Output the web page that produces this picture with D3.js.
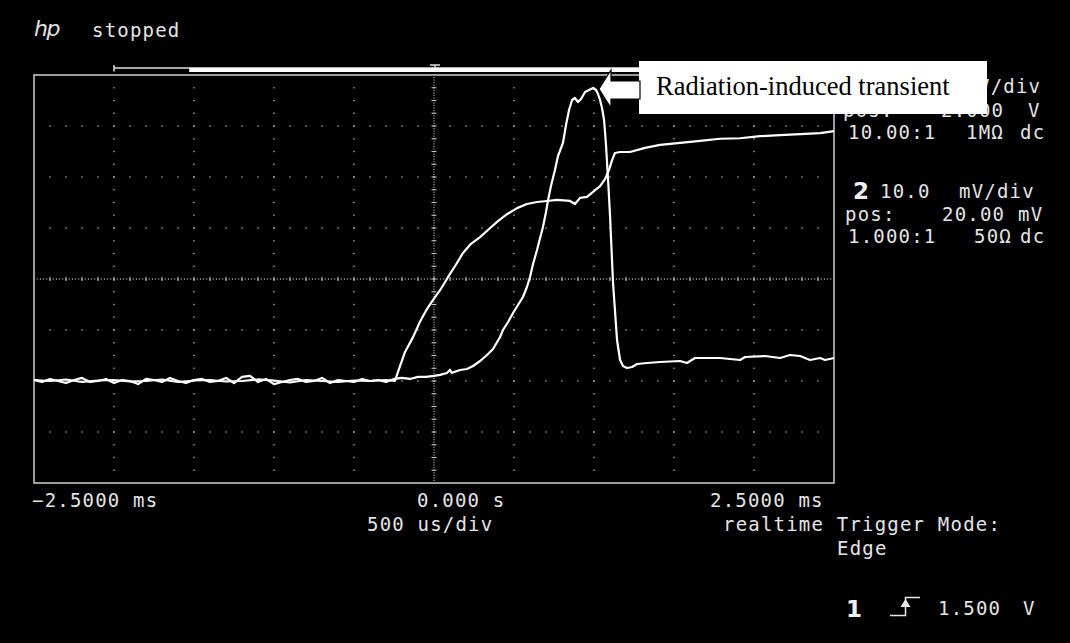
<!DOCTYPE html>
<html>
<head>
<meta charset="utf-8">
<script src="https://cdn.jsdelivr.net/npm/d3@7"></script>
<style>
  html, body { margin: 0; padding: 0; background: #000; }
  svg { display: block; }
  .scope { font-family: "DejaVu Sans Mono", monospace; font-size: 19px; letter-spacing: 1.2px; fill: #e4e4e4; }
  .big { font-family: "DejaVu Sans", sans-serif; font-size: 23px; font-weight: bold; fill: #f0f0f0; }
</style>
</head>
<body>
<script>
// Screen settings of the capture
const timePerDiv = 0.5;          // ms/div (500 us/div)
const timeCenter = 0.0;          // ms
const ch1VoltsPerDiv = 1.0;      // V/div
const ch1Offset = 2.0;           // V at screen centre
const ch2VoltsPerDiv = 10.0;     // mV/div
const ch2Offset = 20.0;          // mV at screen centre

// Channel 1: [time ms, volts]
const ch1Trace = [
  [-2.5,0.02],[-2.4,0.00],[-2.3,0.03],[-2.2,-0.02],[-2.1,0.01],[-2.0,0.02],[-1.9,-0.01],[-1.8,0.00],
  [-1.7,0.03],[-1.6,-0.02],[-1.5,0.01],[-1.4,0.02],[-1.3,-0.01],[-1.2,0.00],[-1.1,0.03],[-1.0,0.01],
  [-0.9,-0.03],[-0.8,0.02],[-0.7,0.00],[-0.6,-0.02],[-0.5,0.01],[-0.4,0.00],[-0.3,0.02],[-0.244,0.00],
  [-0.225,0.18],[-0.181,0.57],[-0.131,0.86],[-0.088,1.16],[-0.044,1.41],[-0.006,1.59],[0.038,1.78],
  [0.088,2.04],[0.131,2.25],[0.181,2.51],[0.231,2.69],[0.288,2.82],[0.344,2.98],[0.394,3.12],
  [0.456,3.27],[0.519,3.39],[0.581,3.47],[0.644,3.51],[0.706,3.53],[0.769,3.55],[0.85,3.53],
  [0.881,3.47],[0.913,3.59],[0.956,3.61],[0.994,3.71],[1.038,3.82],[1.069,3.96],[1.094,4.14],
  [1.113,4.33],[1.131,4.47],[1.163,4.49],[1.225,4.49],[1.319,4.57],[1.413,4.63],[1.538,4.67],
  [1.663,4.71],[1.788,4.75],[1.913,4.76],[2.038,4.80],[2.163,4.82],[2.288,4.84],[2.413,4.86],[2.5,4.90]
];

// Channel 2: [time ms, millivolts]
const ch2Trace = [
  [-2.5,0.2],[-2.45,-0.2],[-2.4,0.4],[-2.35,0.0],[-2.3,-0.4],[-2.25,0.2],[-2.2,0.6],[-2.15,-0.2],
  [-2.1,0.0],[-2.05,0.4],[-2.0,-0.4],[-1.95,0.2],[-1.9,0.0],[-1.85,-0.6],[-1.8,0.4],[-1.75,0.2],
  [-1.7,-0.2],[-1.65,0.6],[-1.6,0.0],[-1.55,-0.4],[-1.5,0.2],[-1.45,0.4],[-1.4,-0.2],[-1.35,0.0],
  [-1.3,0.6],[-1.25,-0.4],[-1.2,0.8],[-1.15,1.0],[-1.1,-0.2],[-1.05,0.4],[-1.0,-0.6],[-0.95,-0.2],
  [-0.9,0.2],[-0.85,0.4],[-0.8,-0.2],[-0.75,0.0],[-0.7,0.6],[-0.65,-0.4],[-0.6,0.2],[-0.55,0.0],
  [-0.5,-0.2],[-0.45,0.4],[-0.4,0.0],[-0.35,0.2],[-0.3,-0.2],
  [-0.25,0.4],[-0.2,0.6],[-0.15,0.4],[-0.1,0.8],[-0.05,0.8],[0.0,1.0],[0.038,1.2],[0.081,1.57],
  [0.1,2.2],[0.11,1.6],[0.163,2.16],[0.206,2.35],[0.244,2.94],[0.288,3.92],[0.331,5.10],[0.369,6.27],
  [0.413,8.63],[0.431,10.0],[0.463,11.57],[0.494,13.33],[0.525,14.90],[0.556,16.47],[0.581,18.43],
  [0.6,20.39],[0.619,22.94],[0.644,25.69],[0.663,28.04],[0.681,30.20],[0.7,33.14],[0.713,35.49],
  [0.731,38.24],[0.756,41.37],[0.775,44.12],[0.806,46.67],[0.825,50.20],[0.844,53.14],[0.863,55.10],
  [0.881,55.49],[0.9,54.71],[0.919,55.29],[0.944,56.67],[0.969,57.06],[0.994,57.45],[1.013,57.06],
  [1.025,56.27],[1.038,55.10],[1.05,53.53],[1.063,51.18],[1.075,46.27],[1.088,39.41],[1.1,32.55],
  [1.119,19.2],[1.144,8.04],[1.163,4.12],[1.181,2.94],[1.206,2.55],[1.238,2.75],[1.269,3.33],
  [1.331,3.53],[1.413,3.73],[1.538,3.92],[1.581,3.53],[1.631,4.51],[1.788,4.51],[1.913,4.12],
  [1.944,4.71],[2.069,4.90],[2.163,4.51],[2.225,5.10],[2.288,4.90],[2.35,4.12],[2.413,4.51],
  [2.444,4.12],[2.5,4.51]
];

// Readout text
const statusText = "stopped";
const ch1Readout = ["V/div", "pos:", "2.000", "V", "10.00:1", "1MΩ", "dc"];
const ch2Readout = ["2", "10.0", "mV/div", "pos:", "20.00", "mV", "1.000:1", "50Ω", "dc"];
const timeLabels = ["−2.5000 ms", "0.000  s", "2.5000 ms"];
const timebaseText = "500  us/div";
const modeText = ["realtime Trigger Mode:", "Edge"];
const triggerText = ["1", "1.500", "V"];
const annotationText = "Radiation-induced transient";

const W = 1070, H = 643;
const plot = { left: 34, top: 75, width: 800, height: 408 };
const nDivX = 10, nDivY = 8;

const svg = d3.select("body").append("svg").attr("width", W).attr("height", H);
svg.append("rect").attr("width", W).attr("height", H).attr("fill", "#000");

// Scales
const x = d3.scaleLinear()
  .domain([timeCenter - timePerDiv * nDivX / 2, timeCenter + timePerDiv * nDivX / 2])
  .range([plot.left, plot.left + plot.width]);
const y1 = d3.scaleLinear()
  .domain([ch1Offset - ch1VoltsPerDiv * nDivY / 2, ch1Offset + ch1VoltsPerDiv * nDivY / 2])
  .range([plot.top + plot.height, plot.top]);
const y2 = d3.scaleLinear()
  .domain([ch2Offset - ch2VoltsPerDiv * nDivY / 2, ch2Offset + ch2VoltsPerDiv * nDivY / 2])
  .range([plot.top + plot.height, plot.top]);
const xDiv = d3.scaleLinear().domain([0, nDivX]).range([plot.left, plot.left + plot.width]);
const yDiv = d3.scaleLinear().domain([0, nDivY]).range([plot.top + plot.height, plot.top]);

// Graticule
const grid = svg.append("g").attr("fill", "#c4c4c4");
const dot = (gx, gy, w = 1.3, h = 1.3) =>
  grid.append("rect").attr("x", gx - w / 2).attr("y", gy - h / 2).attr("width", w).attr("height", h);

d3.range(1, nDivX).filter(i => i !== nDivX / 2).forEach(i => {
  d3.range(1, nDivY * 4).forEach(j => dot(xDiv(i), yDiv(j / 4)));
});
d3.range(1, nDivY).filter(i => i !== nDivY / 2).forEach(i => {
  d3.range(1, nDivX * 5).forEach(j => dot(xDiv(j / 5), yDiv(i)));
});
// centre axes: fine dots with minor ticks
const cy = yDiv(nDivY / 2), cx = xDiv(nDivX / 2);
d3.range(1, nDivX * 25).forEach(j => dot(xDiv(j / 25), cy, 1.1, 1.1));
d3.range(1, nDivX * 5).forEach(j => dot(xDiv(j / 5), cy, 1.1, 4));
d3.range(1, nDivY * 20).forEach(j => dot(cx, yDiv(j / 20), 1.1, 1.1));
d3.range(1, nDivY * 4).forEach(j => dot(cx, yDiv(j / 4), 5, 1.1));

// Frame
svg.append("rect")
  .attr("x", plot.left).attr("y", plot.top)
  .attr("width", plot.width).attr("height", plot.height)
  .attr("fill", "none").attr("stroke", "#cfcfcf").attr("stroke-width", 1.5);

// Traces
const line1 = d3.line().x(d => x(d[0])).y(d => y1(d[1]));
const line2 = d3.line().x(d => x(d[0])).y(d => y2(d[1]));
svg.append("path").datum(ch1Trace).attr("d", line1)
  .attr("fill", "none").attr("stroke", "#fff").attr("stroke-width", 2.2).attr("stroke-linejoin", "round");
svg.append("path").datum(ch2Trace).attr("d", line2)
  .attr("fill", "none").attr("stroke", "#fff").attr("stroke-width", 2.2).attr("stroke-linejoin", "round");

// Acquisition memory bar with trigger marker
const barY = plot.top - 7;
const barStart = xDiv(1), barFill = xDiv(1.94);
svg.append("line").attr("x1", barStart).attr("x2", barStart).attr("y1", barY - 3).attr("y2", barY + 3.5)
  .attr("stroke", "#e0e0e0").attr("stroke-width", 1.5);
svg.append("line").attr("x1", barStart).attr("x2", barFill).attr("y1", barY).attr("y2", barY)
  .attr("stroke", "#e0e0e0").attr("stroke-width", 1.5);
svg.append("rect").attr("x", barFill).attr("y", barY - 0.7).attr("width", xDiv(nDivX) - barFill).attr("height", 4.7)
  .attr("fill", "#fff");
svg.append("line").attr("x1", x(0) + 1).attr("x2", x(0) + 1).attr("y1", barY - 3).attr("y2", barY)
  .attr("stroke", "#e0e0e0").attr("stroke-width", 1.5);
svg.append("line").attr("x1", x(0) - 4).attr("x2", x(0) + 6).attr("y1", barY - 3).attr("y2", barY - 3)
  .attr("stroke", "#e0e0e0").attr("stroke-width", 1.5);

// Status line
svg.append("text").attr("x", 34).attr("y", 36)
  .style("font-family", "'DejaVu Sans', sans-serif").style("font-size", "22px")
  .style("font-style", "italic").attr("fill", "#e4e4e4").attr("letter-spacing", "-1.5px").text("hp");
svg.append("text").attr("class", "scope").attr("x", 92).attr("y", 37).text(statusText);

const txt = (s, tx, ty, cls = "scope") =>
  svg.append("text").attr("class", cls).attr("x", tx).attr("y", ty).text(s);

// Channel 1 readout (partly under the callout)
txt(ch1Readout[0], 978, 93);
txt(ch1Readout[1], 843, 117);
txt(ch1Readout[2], 941, 117);
txt(ch1Readout[3], 1028, 117);
txt(ch1Readout[4], 848, 139);
txt(ch1Readout[5], 966, 139);
txt(ch1Readout[6], 1020, 139);

// Channel 2 readout
txt(ch2Readout[0], 853, 199, "big");
txt(ch2Readout[1], 880, 198);
txt(ch2Readout[2], 959, 198);
txt(ch2Readout[3], 845, 220.5);
txt(ch2Readout[4], 942, 220.5);
txt(ch2Readout[5], 1018, 220.5);
txt(ch2Readout[6], 848, 243);
txt(ch2Readout[7], 974, 243);
txt(ch2Readout[8], 1020, 243);

// Time readouts
txt(timeLabels[0], 32, 507);
txt(timeLabels[1], 417, 507);
txt(timeLabels[2], 710, 507);
txt(timebaseText, 367, 531);
txt(modeText[0], 723, 531);
txt(modeText[1], 837, 555);

// Trigger readout
txt(triggerText[0], 846, 617, "big");
svg.append("path").attr("d", "M890,615.5H905.5V597.5H920")
  .attr("fill", "none").attr("stroke", "#e8e8e8").attr("stroke-width", 1.5);
svg.append("path").attr("d", "M905.5,599L900.5,607H910.5Z").attr("fill", "#e8e8e8");
txt(triggerText[1], 938, 615);
txt(triggerText[2], 1023, 615);

// Annotation callout
svg.append("rect").attr("x", 639).attr("y", 61).attr("width", 348).attr("height", 53).attr("fill", "#fff");
svg.append("text").attr("x", 656).attr("y", 95)
  .style("font-family", "'Liberation Serif', 'Times New Roman', serif").style("font-size", "26.5px")
  .attr("fill", "#000").text(annotationText);
svg.append("path")
  .attr("d", "M599,89L611,70V81H640V99H611V108Z")
  .attr("fill", "#fff").attr("stroke", "#000").attr("stroke-width", 1.2).attr("stroke-linejoin", "miter");
</script>
</body>
</html>
